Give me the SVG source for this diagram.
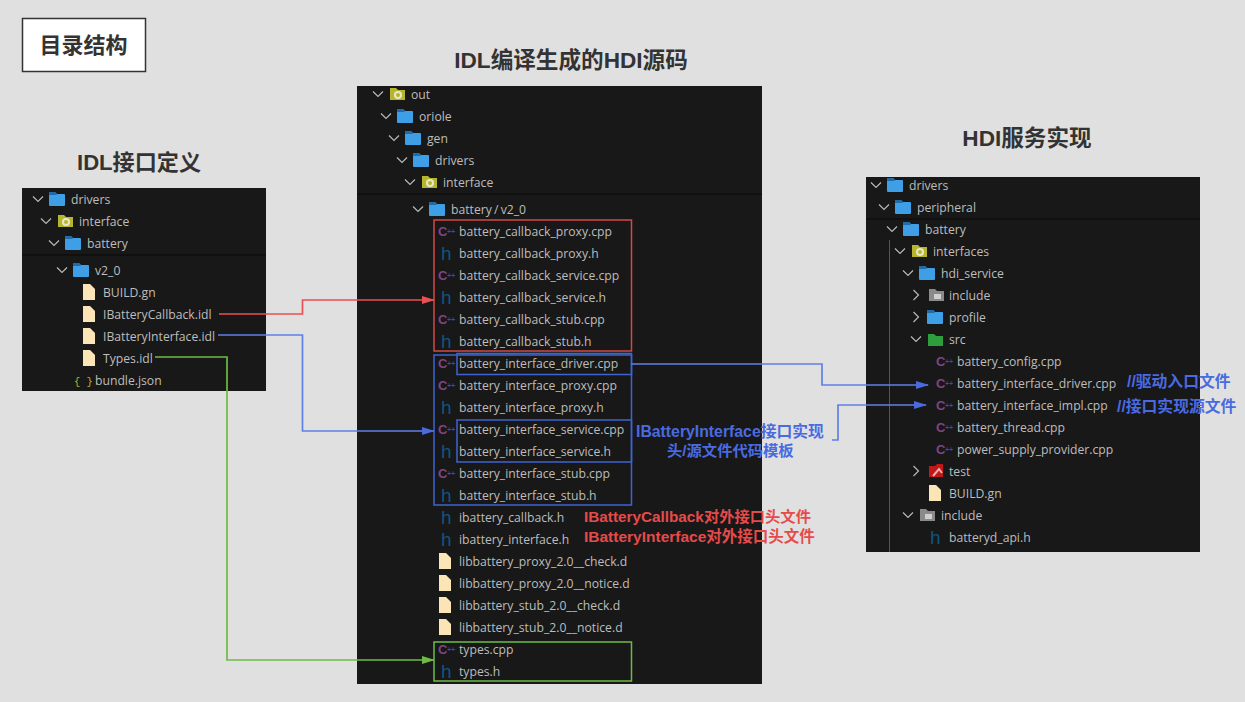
<svg xmlns="http://www.w3.org/2000/svg" width="1245" height="702" viewBox="0 0 1245 702">
<style>
.t{font-family:"Open Sans","Noto Sans",sans-serif;font-size:12.2px;fill:#bdbdbd}
.h1{font-family:"Liberation Sans","Noto Sans CJK SC",sans-serif;font-size:22.6px;font-weight:700;fill:#333;text-anchor:middle}
.bl{font-family:"Liberation Sans","Noto Sans CJK SC",sans-serif;font-size:15.8px;font-weight:700;fill:#4a6be0}
.rd{font-family:"Liberation Sans","Noto Sans CJK SC",sans-serif;font-size:15.5px;font-weight:700;fill:#e54b4b}
.panel{fill:#181818}
.sep{stroke:#101010;stroke-width:2}
.chev{fill:none;stroke:#b8b8b8;stroke-width:1.2}
.cpp{font-family:"Liberation Sans",sans-serif;font-size:13px;font-weight:700;fill:#7d4488}
.pp{font-family:"Liberation Sans",sans-serif;font-size:7px;font-weight:700;fill:#6d3c78}
.hh{font-family:"Liberation Sans",sans-serif;font-size:19px;fill:#0d5580}
.box{fill:none;stroke-width:1.5}
.c{fill:none;stroke-width:1.7}
</style>
<defs>
<marker id="ab" markerWidth="13" markerHeight="10" refX="12" refY="4" orient="auto" markerUnits="userSpaceOnUse"><path d="M0 0L13 4L0 8Z" fill="#4a6be0"/></marker>
<marker id="ar" markerWidth="13" markerHeight="10" refX="12" refY="4" orient="auto" markerUnits="userSpaceOnUse"><path d="M0 0L13 4L0 8Z" fill="#e9504f"/></marker>
<marker id="ag" markerWidth="13" markerHeight="10" refX="12" refY="4" orient="auto" markerUnits="userSpaceOnUse"><path d="M0 0L13 4L0 8Z" fill="#6dbb45"/></marker>
<symbol id="dn" overflow="visible"><path class="chev" d="M-5 -2.500L0 2.500L5 -2.500"/></symbol>
<symbol id="rt" overflow="visible"><path class="chev" d="M-2.500 -5L2.500 0L-2.500 5"/></symbol>
<symbol id="fo" overflow="visible"><path d="M1 -7H6L8 -5H15Q16 -5 16 -4V6Q16 7 15 7H1Q0 7 0 6V-6Q0 -7 1 -7Z" fill="#3f9fe6"/><path d="M1 -7H6L8 -4H0V-6Q0 -7 1 -7Z" fill="#1f6ca8"/></symbol>
<symbol id="fy" overflow="visible"><path d="M0 -6H6L8 -4H15V6H0Z" fill="#b5b52f"/><circle cx="8" cy="1" r="4" fill="#e8e8c8"/><circle cx="8" cy="1" r="2" fill="#b5b52f"/></symbol>
<symbol id="fg" overflow="visible"><path d="M0 -6H6L8 -4H15V6H0Z" fill="#8a8a8a"/><path d="M5 -1H12V4H5Z" fill="#cfcfcf"/></symbol>
<symbol id="fl" overflow="visible"><path d="M0 -8H7L12 -3V8H0Z" fill="#fbe5b6"/></symbol>
<symbol id="cp" overflow="visible"><text class="cpp" x="0" y="4.500">C</text><text class="pp" x="9" y="2.500">++</text></symbol>
<symbol id="hf" overflow="visible"><text class="hh" x="0" y="6.500">h</text></symbol>
</defs>
<rect width="1245" height="702" fill="#e0e0e0"/>
<g id="title-box"><rect x="22.500" y="18.500" width="123" height="53" fill="#fff" stroke="#333" stroke-width="1.500"/><text class="h1" x="83.500" y="53" style="font-size:22px">目录结构</text></g>
<g id="title-idl"><text class="h1" x="139" y="170" style="font-size:22.1px">IDL接口定义</text></g>
<g id="title-gen"><text class="h1" x="571" y="68">IDL编译生成的HDI源码</text></g>
<g id="title-hdi"><text class="h1" x="1027" y="146">HDI服务实现</text></g>

<g id="panel-idl">
<rect class="panel" x="22" y="188" width="244" height="203"/>
<line class="sep" x1="22" y1="255" x2="266" y2="255"/>
<use href="#dn" x="38" y="199"/><use href="#fo" x="49" y="199"/><text class="t" x="71" y="204">drivers</text>
<use href="#dn" x="46" y="221"/><use href="#fy" x="58" y="221"/><text class="t" x="79" y="226">interface</text>
<use href="#dn" x="54" y="243"/><use href="#fo" x="65" y="243"/><text class="t" x="87" y="248">battery</text>
<use href="#dn" x="62" y="270"/><use href="#fo" x="73" y="270"/><text class="t" x="95" y="275">v2_0</text>
<use href="#fl" x="83" y="292"/><text class="t" x="103" y="297">BUILD.gn</text>
<use href="#fl" x="83" y="314"/><text class="t" x="103" y="319">IBatteryCallback.idl</text>
<use href="#fl" x="83" y="336"/><text class="t" x="103" y="341">IBatteryInterface.idl</text>
<use href="#fl" x="83" y="358"/><text class="t" x="103" y="363">Types.idl</text>
<text x="74" y="385" font-family="Liberation Mono,monospace" font-size="10.500" fill="#b5b52f">{ }</text><text class="t" x="95" y="385">bundle.json</text>
</g>

<g id="panel-gen">
<rect class="panel" x="357" y="86" width="405" height="598"/>
<line class="sep" x1="357" y1="194" x2="762" y2="194"/>
<use href="#dn" x="378" y="94"/><use href="#fy" x="390" y="94"/><text class="t" x="411" y="99">out</text>
<use href="#dn" x="386" y="116"/><use href="#fo" x="397" y="116"/><text class="t" x="419" y="121">oriole</text>
<use href="#dn" x="394" y="138"/><use href="#fo" x="405" y="138"/><text class="t" x="427" y="143">gen</text>
<use href="#dn" x="402" y="160"/><use href="#fo" x="413" y="160"/><text class="t" x="435" y="165">drivers</text>
<use href="#dn" x="410" y="182"/><use href="#fy" x="422" y="182"/><text class="t" x="443" y="187">interface</text>
<use href="#dn" x="418" y="209"/><use href="#fo" x="429" y="209"/><text class="t" x="451" y="214" word-spacing="-1">battery / v2_0</text>
<use href="#cp" x="438" y="231"/><text class="t" x="459" y="236">battery_callback_proxy.cpp</text>
<use href="#hf" x="441" y="253"/><text class="t" x="459" y="258">battery_callback_proxy.h</text>
<use href="#cp" x="438" y="275"/><text class="t" x="459" y="280">battery_callback_service.cpp</text>
<use href="#hf" x="441" y="297"/><text class="t" x="459" y="302">battery_callback_service.h</text>
<use href="#cp" x="438" y="319"/><text class="t" x="459" y="324">battery_callback_stub.cpp</text>
<use href="#hf" x="441" y="341"/><text class="t" x="459" y="346">battery_callback_stub.h</text>
<use href="#cp" x="438" y="363"/><text class="t" x="459" y="368">battery_interface_driver.cpp</text>
<use href="#cp" x="438" y="385"/><text class="t" x="459" y="390">battery_interface_proxy.cpp</text>
<use href="#hf" x="441" y="407"/><text class="t" x="459" y="412">battery_interface_proxy.h</text>
<use href="#cp" x="438" y="429"/><text class="t" x="459" y="434">battery_interface_service.cpp</text>
<use href="#hf" x="441" y="451"/><text class="t" x="459" y="456">battery_interface_service.h</text>
<use href="#cp" x="438" y="473"/><text class="t" x="459" y="478">battery_interface_stub.cpp</text>
<use href="#hf" x="441" y="495"/><text class="t" x="459" y="500">battery_interface_stub.h</text>
<use href="#hf" x="441" y="517"/><text class="t" x="459" y="522">ibattery_callback.h</text>
<use href="#hf" x="441" y="539"/><text class="t" x="459" y="544">ibattery_interface.h</text>
<use href="#fl" x="439" y="561"/><text class="t" x="459" y="566">libbattery_proxy_2.0__check.d</text>
<use href="#fl" x="439" y="583"/><text class="t" x="459" y="588">libbattery_proxy_2.0__notice.d</text>
<use href="#fl" x="439" y="605"/><text class="t" x="459" y="610">libbattery_stub_2.0__check.d</text>
<use href="#fl" x="439" y="627"/><text class="t" x="459" y="632">libbattery_stub_2.0__notice.d</text>
<use href="#cp" x="438" y="649"/><text class="t" x="459" y="654">types.cpp</text>
<use href="#hf" x="441" y="671"/><text class="t" x="459" y="676">types.h</text>
<rect class="box" x="434" y="220" width="197.500" height="131" stroke="#d24a46"/>
<rect class="box" x="434" y="355" width="197.500" height="150" stroke="#3f63d0"/>
<rect class="box" x="457" y="353.500" width="174.500" height="21" stroke="#3f63d0"/>
<rect class="box" x="457" y="420" width="174.500" height="42" stroke="#3f63d0"/>
<rect class="box" x="434" y="642" width="197.500" height="39" stroke="#6dbb45"/>
</g>

<g id="panel-hdi">
<rect class="panel" x="866" y="177" width="334" height="375"/>
<line class="sep" x1="866" y1="219" x2="1200" y2="219"/>
<line x1="889.500" y1="240" x2="889.500" y2="552" stroke="#555" stroke-width="1"/>
<use href="#dn" x="876" y="185"/><use href="#fo" x="887" y="185"/><text class="t" x="909" y="190">drivers</text>
<use href="#dn" x="884" y="207"/><use href="#fo" x="895" y="207"/><text class="t" x="917" y="212">peripheral</text>
<use href="#dn" x="892" y="229"/><use href="#fo" x="903" y="229"/><text class="t" x="925" y="234">battery</text>
<use href="#dn" x="900" y="251"/><use href="#fy" x="912" y="251"/><text class="t" x="933" y="256">interfaces</text>
<use href="#dn" x="908" y="273"/><use href="#fo" x="919" y="273"/><text class="t" x="941" y="278">hdi_service</text>
<use href="#rt" x="916" y="295"/><use href="#fg" x="929" y="295"/><text class="t" x="949" y="300">include</text>
<use href="#rt" x="916" y="317"/><use href="#fo" x="927" y="317"/><text class="t" x="949" y="322">profile</text>
<use href="#dn" x="916" y="339"/><path d="M928 334H934L936 336H943V346H928Z" fill="#2e9e3c"/><text class="t" x="949" y="344">src</text>
<use href="#cp" x="936" y="361"/><text class="t" x="957" y="366">battery_config.cpp</text>
<use href="#cp" x="936" y="383"/><text class="t" x="957" y="388">battery_interface_driver.cpp</text>
<use href="#cp" x="936" y="405"/><text class="t" x="957" y="410">battery_interface_impl.cpp</text>
<use href="#cp" x="936" y="427"/><text class="t" x="957" y="432">battery_thread.cpp</text>
<use href="#cp" x="936" y="449"/><text class="t" x="957" y="454">power_supply_provider.cpp</text>
<use href="#rt" x="916" y="471"/><path d="M929 466H935L937 464H943V477H929Z" fill="#c01818"/><path d="M933 476L939 469L942 473" fill="none" stroke="#f0b0b0" stroke-width="2"/><text class="t" x="949" y="476">test</text>
<use href="#fl" x="929" y="493"/><text class="t" x="949" y="498">BUILD.gn</text>
<use href="#dn" x="908" y="515"/><use href="#fg" x="920" y="515"/><text class="t" x="941" y="520">include</text>
<use href="#hf" x="930" y="537"/><text class="t" x="949" y="542">batteryd_api.h</text>
</g>

<g id="labels">
<text class="bl" x="636" y="437">IBatteryInterface接口实现</text>
<text class="bl" x="667" y="456" style="font-size:15.3px">头/源文件代码模板</text>
<text class="rd" x="584" y="522" style="font-size:15.3px">IBatteryCallback对外接口头文件</text>
<text class="rd" x="584" y="542">IBatteryInterface对外接口头文件</text>
<text class="bl" x="1127" y="387">//驱动入口文件</text>
<text class="bl" x="1117" y="412">//接口实现源文件</text>
</g>

<g id="connectors">
<path class="c" stroke="#e9504f" marker-end="url(#ar)" d="M219 314H302.500V300H434"/>
<path class="c" stroke="#5f7fe6" marker-end="url(#ab)" d="M218 335H302.500V431H434"/>
<path class="c" stroke="#6dbb45" marker-end="url(#ag)" d="M155 357H227V660H434"/>
<path class="c" stroke="#5f7fe6" marker-end="url(#ab)" d="M631 364H822V385H928"/>
<path class="c" stroke="#5f7fe6" marker-end="url(#ab)" d="M832 440H838V405H926"/>
</g>
</svg>
